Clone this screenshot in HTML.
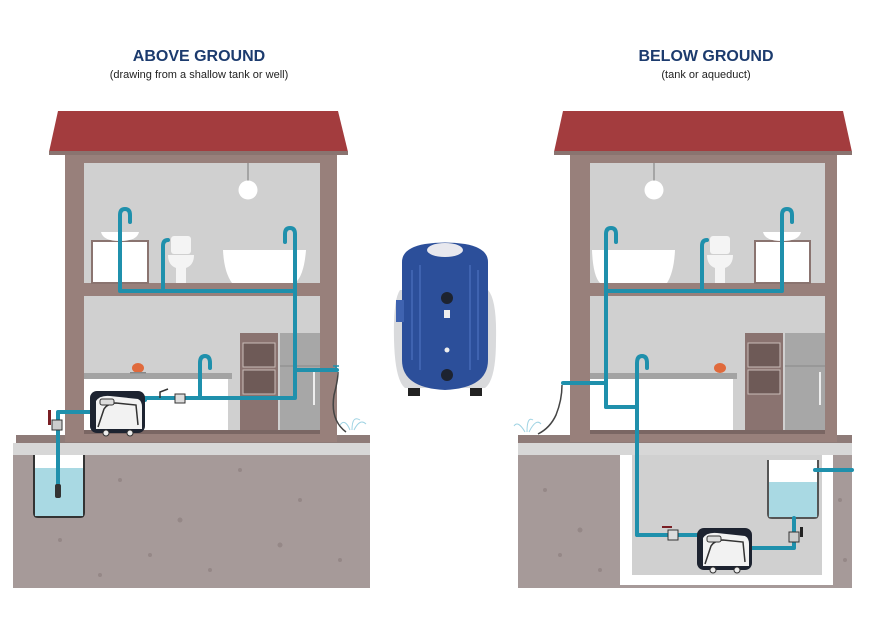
<!DOCTYPE html>
<html><head><meta charset="utf-8"><style>
html,body{margin:0;padding:0;background:#fff;width:883px;height:634px;overflow:hidden}
svg{display:block}
text{font-family:"Liberation Sans",sans-serif}
</style></head><body>
<svg width="883" height="634" viewBox="0 0 883 634" xmlns="http://www.w3.org/2000/svg">
<defs>
<g id="pumpS">
  <rect x="0" y="0" width="55" height="42" rx="7" fill="#1d2330"/>
  <path d="M6 10 Q10 4 20 5 L48 8 Q52 10 52 16 L52 38 L6 38 Z" fill="#f2f2f2"/>
  <path d="M8 36 L14 18 Q18 12 26 12 L46 14 L48 34" fill="none" stroke="#333" stroke-width="1.5"/>
  <rect x="10" y="8" width="14" height="6" rx="2" fill="#ddd" stroke="#333"/>
  <circle cx="16" cy="42" r="3" fill="#eee" stroke="#333"/>
  <circle cx="40" cy="42" r="3" fill="#eee" stroke="#333"/>
</g>
</defs>

<!-- Titles -->
<text x="199" y="61" text-anchor="middle" font-size="16" font-weight="bold" fill="#1c3b6e">ABOVE GROUND</text>
<text x="199" y="78" text-anchor="middle" font-size="11" fill="#222">(drawing from a shallow tank or well)</text>
<text x="706" y="61" text-anchor="middle" font-size="16" font-weight="bold" fill="#1c3b6e">BELOW GROUND</text>
<text x="706" y="78" text-anchor="middle" font-size="11" fill="#222">(tank or aqueduct)</text>

<!-- ===== LEFT HOUSE ===== -->
<rect x="13" y="455" width="357" height="133" fill="#a69a99"/>
<g fill="#958887"><circle cx="60" cy="540" r="2"/><circle cx="120" cy="480" r="2"/><circle cx="180" cy="520" r="2.5"/><circle cx="240" cy="470" r="2"/><circle cx="300" cy="500" r="2"/><circle cx="340" cy="560" r="2"/><circle cx="210" cy="570" r="2"/><circle cx="150" cy="555" r="2"/><circle cx="280" cy="545" r="2.5"/><circle cx="100" cy="575" r="2"/></g>
<rect x="13" y="443" width="357" height="12" fill="#d7d7d7"/>
<rect x="16" y="435" width="354" height="8" fill="#8e7b78"/>
<!-- well -->
<path d="M34 455 L34 513 Q34 517 38 517 L80 517 Q84 517 84 513 L84 455" fill="#fff" stroke="#333" stroke-width="2"/>
<rect x="35" y="468" width="48" height="48" fill="#a9d9e3"/>
<!-- walls -->
<rect x="65" y="152" width="272" height="290" fill="#98807b"/>
<rect x="84" y="163" width="236" height="120" fill="#d0d0d0"/>
<rect x="84" y="296" width="236" height="134" fill="#d0d0d0"/>
<rect x="84" y="430" width="236" height="4" fill="#7a6663"/>
<!-- roof -->
<polygon points="58,111 338,111 348,152 49,152" fill="#a33c3e"/>
<rect x="49" y="151" width="299" height="4" fill="#8a7470"/>
<!-- light -->
<line x1="248" y1="163" x2="248" y2="181" stroke="#888" stroke-width="1.2"/>
<circle cx="248" cy="190" r="9.5" fill="#fff"/>
<!-- sink cabinet -->
<rect x="92" y="241" width="56" height="42" fill="#fff" stroke="#8a7470" stroke-width="2"/>
<line x1="120" y1="241" x2="120" y2="283" stroke="#ccc"/>
<path d="M101 232 L139 232 Q137 241 120 241 Q103 241 101 232Z" fill="#fff"/>
<!-- toilet -->
<rect x="171" y="236" width="20" height="18" rx="3" fill="#f4f4f4"/>
<path d="M168 255 L194 255 Q194 265 186 268 L186 283 L176 283 L176 268 Q168 265 168 255Z" fill="#f4f4f4"/>
<!-- bathtub -->
<path d="M223 250 L306 250 Q304 276 295 283 L232 283 Q224 272 223 250Z" fill="#fff"/>
<!-- kitchen -->
<rect x="84" y="373" width="148" height="6" fill="#a3a3a3"/>
<rect x="84" y="379" width="144" height="51" fill="#fff"/>
<rect x="240" y="333" width="38" height="97" fill="#8a7370"/>
<rect x="243" y="343" width="32" height="24" fill="#6e5a57" stroke="#c9bcb9"/>
<rect x="243" y="370" width="32" height="24" fill="#6e5a57" stroke="#c9bcb9"/>
<rect x="280" y="333" width="40" height="97" fill="#a7a7a7"/>
<line x1="280" y1="366" x2="320" y2="366" stroke="#888"/>
<line x1="314" y1="372" x2="314" y2="405" stroke="#eee" stroke-width="2"/>
<ellipse cx="138" cy="368" rx="6" ry="5" fill="#e06a3c"/>
<rect x="130" y="372" width="16" height="1.5" fill="#888"/>
<!-- pipes left -->
<g fill="none" stroke="#1f90ac" stroke-width="4" stroke-linecap="round" stroke-linejoin="round">
  <path d="M120 238 L120 291 L295 291"/>
  <path d="M120 238 L120 215 Q120 209 125 209 Q130 209 130 215 L130 222"/>
  <path d="M163 291 L163 246 Q163 240 168 240"/>
  <path d="M295 291 L295 234 Q295 228 290 228 Q285 228 285 234 L285 242"/>
  <path d="M295 291 L295 398 L180 398"/>
  <path d="M295 370 L337 370"/>
  <path d="M200 398 L200 363 Q200 356 205 356 Q210 356 210 363 L210 368"/>
  <path d="M145 400 L145 398"/>
  <path d="M90 412 L58 412 L58 495"/>
  <path d="M145 398 L175 398"/>
</g>
<rect x="175" y="394" width="10" height="9" fill="#ddd" stroke="#333"/>
<path d="M160 398 l0 -6 l8 -3" stroke="#333" stroke-width="1.5" fill="none"/>
<rect x="52" y="420" width="10" height="10" fill="#ccc" stroke="#333"/>
<rect x="48" y="410" width="3" height="15" fill="#7a1f24"/>
<rect x="55" y="484" width="6" height="14" rx="2" fill="#333"/>
<use href="#pumpS" x="90" y="391"/>
<!-- hose & sprinkler left -->
<path d="M338 372 Q338 380 334 395 Q330 420 346 432" fill="none" stroke="#444" stroke-width="1.5"/>
<path d="M336 366 l0 6 M333 366 l6 0" stroke="#1f90ac" stroke-width="1.5"/>
<g stroke="#9fd3e3" stroke-width="1" fill="none"><path d="M350 430 Q345 418 340 425"/><path d="M352 430 Q352 415 360 420"/><path d="M354 430 Q360 418 366 424"/></g>

<!-- ===== RIGHT HOUSE ===== -->
<rect x="518" y="455" width="334" height="133" fill="#a69a99"/>
<g fill="#958887"><circle cx="545" cy="490" r="2"/><circle cx="580" cy="530" r="2.5"/><circle cx="600" cy="570" r="2"/><circle cx="560" cy="555" r="2"/><circle cx="840" cy="500" r="2"/><circle cx="845" cy="560" r="2"/></g>
<rect x="518" y="443" width="334" height="12" fill="#d7d7d7"/>
<rect x="518" y="435" width="334" height="8" fill="#8e7b78"/>
<rect x="620" y="455" width="213" height="130" fill="#fff"/>
<rect x="632" y="455" width="190" height="120" fill="#d0d0d0"/>
<rect x="570" y="152" width="267" height="290" fill="#98807b"/>
<rect x="590" y="163" width="235" height="120" fill="#d0d0d0"/>
<rect x="590" y="296" width="235" height="134" fill="#d0d0d0"/>
<rect x="590" y="430" width="235" height="4" fill="#7a6663"/>
<polygon points="563,111 843,111 852,152 554,152" fill="#a33c3e"/>
<rect x="554" y="151" width="298" height="4" fill="#8a7470"/>
<line x1="654" y1="163" x2="654" y2="181" stroke="#888" stroke-width="1.2"/>
<circle cx="654" cy="190" r="9.5" fill="#fff"/>
<!-- bathtub -->
<path d="M592 250 L675 250 Q674 272 667 283 L600 283 Q593 276 592 250Z" fill="#fff"/>
<!-- toilet -->
<rect x="710" y="236" width="20" height="18" rx="3" fill="#f4f4f4"/>
<path d="M707 255 L733 255 Q733 265 725 268 L725 283 L715 283 L715 268 Q707 265 707 255Z" fill="#f4f4f4"/>
<!-- sink cabinet -->
<rect x="755" y="241" width="55" height="42" fill="#fff" stroke="#8a7470" stroke-width="2"/>
<path d="M763 232 L801 232 Q799 241 782 241 Q765 241 763 232Z" fill="#fff"/>
<!-- kitchen -->
<rect x="590" y="373" width="147" height="6" fill="#a3a3a3"/>
<rect x="590" y="379" width="143" height="51" fill="#fff"/>
<rect x="745" y="333" width="38" height="97" fill="#8a7370"/>
<rect x="748" y="343" width="32" height="24" fill="#6e5a57" stroke="#c9bcb9"/>
<rect x="748" y="370" width="32" height="24" fill="#6e5a57" stroke="#c9bcb9"/>
<rect x="785" y="333" width="40" height="97" fill="#a7a7a7"/>
<line x1="785" y1="366" x2="825" y2="366" stroke="#888"/>
<line x1="820" y1="372" x2="820" y2="405" stroke="#eee" stroke-width="2"/>
<ellipse cx="720" cy="368" rx="6" ry="5" fill="#e06a3c"/>
<!-- tank -->
<path d="M768 460 L768 514 Q768 518 772 518 L814 518 Q818 518 818 514 L818 460" fill="#fff" stroke="#555" stroke-width="2"/>
<rect x="769" y="482" width="48" height="35" fill="#a9d9e3"/>
<!-- pipes right -->
<g fill="none" stroke="#1f90ac" stroke-width="4" stroke-linecap="round" stroke-linejoin="round">
  <path d="M606 407 L606 234 Q606 228 611 228 Q616 228 616 234 L616 242"/>
  <path d="M606 291 L782 291 L782 215 Q782 209 787 209 Q792 209 792 215 L792 222"/>
  <path d="M702 291 L702 246 Q702 240 707 240"/>
  <path d="M563 383 L606 383"/>
  <path d="M606 407 L637 407"/>
  <path d="M637 535 L637 363 Q637 356 642 356 Q647 356 647 363 L647 368"/>
  <path d="M637 535 L700 535"/>
  <path d="M752 548 L794 548 L794 518"/>
  <path d="M815 470 L852 470"/>
</g>
<rect x="668" y="530" width="10" height="10" fill="#ddd" stroke="#333"/>
<path d="M662 527 l10 0" stroke="#7a1f24" stroke-width="2"/>
<rect x="789" y="532" width="10" height="10" fill="#ccc" stroke="#333"/>
<rect x="800" y="527" width="3" height="10" fill="#222"/>
<use href="#pumpS" x="697" y="528"/>
<path d="M562 385 Q562 400 556 415 Q550 428 538 434" fill="none" stroke="#444" stroke-width="1.5"/>
<g stroke="#9fd3e3" stroke-width="1" fill="none"><path d="M525 432 Q518 420 514 426"/><path d="M527 432 Q527 416 533 420"/><path d="M529 432 Q536 418 541 424"/></g>

<!-- ===== CENTER PUMP ===== -->
<path d="M400 290 Q393 300 394 340 Q395 380 405 388 L485 388 Q496 380 496 340 Q497 300 488 290 Z" fill="#d9dadc"/>
<path d="M402 262 Q402 248 425 244 Q445 241 465 244 Q488 248 488 262 L488 360 Q488 388 445 390 Q402 388 402 360 Z" fill="#2c4f9a"/>
<path d="M412 270 L412 360 M420 265 L420 370 M470 265 L470 370 M478 270 L478 360" stroke="#3f63b0" stroke-width="2"/>
<ellipse cx="445" cy="250" rx="18" ry="7" fill="#e8e8ee"/>
<circle cx="447" cy="298" r="6" fill="#1d2330"/>
<circle cx="447" cy="375" r="6" fill="#1d2330"/>
<circle cx="447" cy="350" r="2.5" fill="#eee"/>
<rect x="444" y="310" width="6" height="8" fill="#eee"/>
<rect x="396" y="300" width="8" height="22" fill="#3f63b0"/>
<rect x="408" y="388" width="12" height="8" fill="#222"/>
<rect x="470" y="388" width="12" height="8" fill="#222"/>
</svg>
</body></html>
